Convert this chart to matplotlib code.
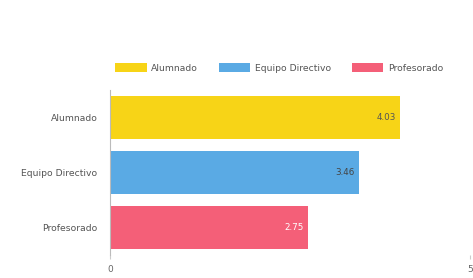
import matplotlib.pyplot as plt
from matplotlib.patches import Patch

# 数据
categories = ["Alumnado", "Equipo Directivo", "Profesorado"]
values = [4.03, 3.46, 2.75]
value_labels = ["4.03", "3.46", "2.75"]
colors = ["#f7d417", "#5aaae4", "#f45f78"]
label_colors = ["#555555", "#444444", "#ffffff"]
x_ticks = [0, 5]

fig = plt.figure(figsize=(4.73, 2.78), dpi=100)
ax = fig.add_axes([0.2326, 0.083, 0.761, 0.593])

y_pos = list(range(len(categories)))
ax.barh(y_pos, values, height=0.78, color=colors)
ax.set_ylim(len(categories) - 0.5, -0.5)
ax.set_xlim(0, 5)

for y, v, lab, c in zip(y_pos, values, value_labels, label_colors):
    ax.text(v - 0.06, y, lab, ha="right", va="center", fontsize=6.3, color=c)

ax.set_yticks(y_pos)
ax.set_yticklabels(categories, fontsize=6.7, color="#555555")
ax.set_xticks(x_ticks)
ax.set_xticklabels([str(t) for t in x_ticks], fontsize=6.5, color="#666666")
ax.tick_params(axis="y", length=0, pad=9)
ax.tick_params(axis="x", length=3, color="#cccccc", pad=4)

for side in ["top", "right", "bottom"]:
    ax.spines[side].set_visible(False)
ax.spines["left"].set_color("#bbbbbb")
ax.spines["left"].set_linewidth(0.8)

handles = [Patch(facecolor=c, label=n) for c, n in zip(colors, categories)]
fig.legend(handles=handles, loc="center", bbox_to_anchor=(0.59, 0.755), ncol=3,
           frameon=False, fontsize=6.7, handlelength=3.4, handleheight=1.1,
           columnspacing=2.2, handletextpad=0.5, labelcolor="#555555")

fig.savefig("out.png", dpi=100)
